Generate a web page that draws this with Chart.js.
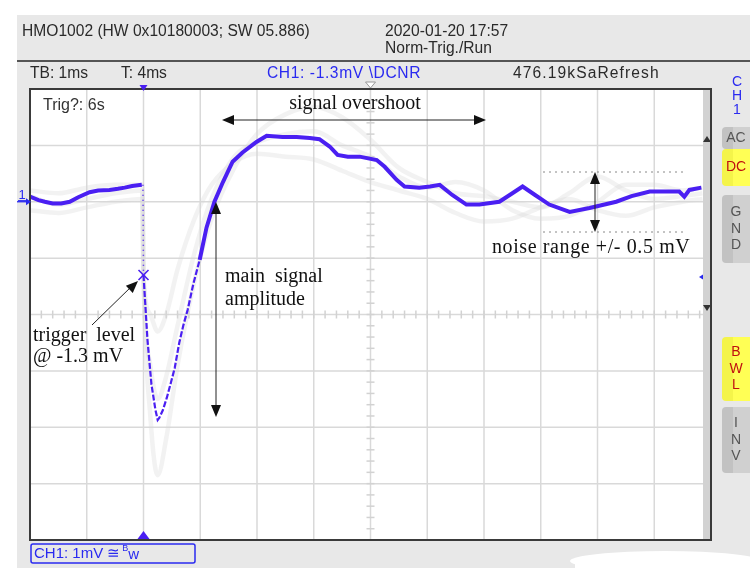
<!DOCTYPE html>
<html><head><meta charset="utf-8">
<script src="https://cdn.jsdelivr.net/npm/chart.js@4/dist/chart.umd.min.js"></script>
<style>html,body{margin:0;padding:0;background:#fff;overflow:hidden}#wrap{width:750px;height:568px}</style>
</head><body><div id="wrap"><canvas id="c" width="750" height="568"></canvas></div>
<script>
// ---- grid (divisions) ----
const timeGrid = [-2,-1,0,1,2,3,4,5,6,7,8,9,10];   // ms, 1 ms / div
const voltGrid = [-6,-5,-4,-3,-2,-1,0,1,2];         // mV, 1 mV / div
const centerTime = 4, centerVolt = -2, triggerLevel = -1.3;

// ---- header texts ----
const headerLeft = 'HMO1002 (HW 0x10180003; SW 05.886)';
const headerDate = '2020-01-20 17:57';
const headerMode = 'Norm-Trig./Run';
const infoTB = 'TB: 1ms', infoT = 'T: 4ms', infoCH = 'CH1: -1.3mV \\DCNR', infoRate = '476.19kSaRefresh';

// ---- live trace (blue) ----
const preTime  = [-2.0,-1.85,-1.74,-1.6,-1.45,-1.3,-1.15,-0.95,-0.8,-0.6,-0.45,-0.33,-0.2,-0.03];
const preVolts = [0.09,0.03,0.0,-0.03,-0.03,0.0,0.08,0.17,0.2,0.21,0.23,0.25,0.28,0.3];
const edgeTime  = [-0.01,0.0];
const edgeVolts = [0.3,-1.3];
const pulseTime  = [0.0,0.07,0.14,0.21,0.25,0.28,0.34,0.41,0.48,0.55,0.63,0.7,0.78,0.88,0.99];
const pulseVolts = [-1.3,-2.45,-3.24,-3.69,-3.87,-3.83,-3.7,-3.48,-3.22,-2.95,-2.5,-2.2,-1.91,-1.45,-1.03];
const tailTime  = [0.99,1.11,1.25,1.4,1.57,1.74,1.99,2.17,2.45,2.7,2.93,3.1,3.28,3.42,3.6,3.81,4.11,4.25,4.46,4.6,4.86,5.05,5.22,5.44,5.69,5.92,6.27,6.5,6.68,6.9,7.15,7.51,7.86,8.33,8.6,8.92,9.2,9.44,9.53,9.62,9.83];
const tailVolts = [-1.03,-0.46,0.0,0.35,0.71,0.87,1.06,1.17,1.15,1.15,1.13,1.11,0.98,0.83,0.8,0.8,0.74,0.62,0.39,0.27,0.25,0.27,0.3,0.12,-0.05,-0.05,0.0,0.15,0.27,0.12,-0.05,-0.18,-0.11,0.0,0.1,0.18,0.18,0.18,0.09,0.21,0.25];

// ---- persistence (grey) traces ----
const ghostTime    = [-2,-1.5,-1,-0.5,-0.02,0,0.12,0.25,0.4,0.6,0.9,1.2,1.6,2.0,2.5,3.0,3.5,4.0,4.5,5.0,5.5,6.0,6.5,7.0,7.5,8.0,8.5,9.0,9.5,9.85];
const ghostDeep    = [0.1,-0.05,0.05,0.15,0.2,-1.3,-3.8,-4.85,-4.2,-2.9,-1.4,-0.3,0.6,1.2,1.55,1.68,1.5,1.1,0.6,0.35,0.15,0.1,0.0,-0.1,0.15,0.45,0.2,0.05,0.1,0.15];
const ghostShallow = [-0.15,-0.2,-0.1,0.0,0.05,-1.3,-2.0,-2.3,-2.0,-1.2,-0.3,0.3,0.7,0.85,0.8,0.75,0.55,0.35,0.2,0.05,-0.2,-0.35,-0.3,-0.1,0.05,-0.15,-0.25,-0.1,0.0,0.05];
const ghostMid     = [0.2,0.15,0.25,0.3,0.3,-1.3,-2.9,-3.5,-3.1,-2.2,-0.9,0.05,0.8,1.05,1.2,1.25,1.0,0.8,0.45,0.25,0.35,0.2,-0.15,-0.3,-0.25,0.0,0.3,0.3,0.2,0.25];

const BLUE = '#4a1ff2';
const pts = (xs, ys) => xs.map((x, i) => ({x, y: ys[i]}));
const ghostStyle = {borderColor:'rgba(215,215,215,0.33)', borderWidth:4.5, pointRadius:0, showLine:true, cubicInterpolationMode:'monotone', order:10};

function arrowHead(c, x, y, ang, len = 12, half = 5) {
  c.beginPath();
  c.moveTo(x, y);
  c.lineTo(x - len*Math.cos(ang) + half*Math.sin(ang), y - len*Math.sin(ang) - half*Math.cos(ang));
  c.lineTo(x - len*Math.cos(ang) - half*Math.sin(ang), y - len*Math.sin(ang) + half*Math.cos(ang));
  c.closePath(); c.fill();
}
function line(c, x1, y1, x2, y2) { c.beginPath(); c.moveTo(x1, y1); c.lineTo(x2, y2); c.stroke(); }
function button(c, y1, y2, color, dark, letters, textColor) {
  c.fillStyle = dark; c.beginPath(); c.roundRect(722, y1, 40, y2 - y1, 4); c.fill();
  c.fillStyle = color; c.fillRect(733, y1, 17, y2 - y1);
  c.fillStyle = textColor; c.font = '14px "Liberation Sans"'; c.textAlign = 'center'; c.textBaseline = 'middle';
  const n = letters.length;
  letters.forEach((s, i) => c.fillText(s, 736, (y1 + y2)/2 + (i - (n-1)/2) * 16.5));
}

const scope = {
  id: 'scope',
  beforeDatasetsDraw(chart) {
    const c = chart.ctx, xs = chart.scales.x, ys = chart.scales.y;
    const L = xs.getPixelForValue(timeGrid[0]), R = xs.getPixelForValue(timeGrid[timeGrid.length-1]);
    const T = ys.getPixelForValue(voltGrid[voltGrid.length-1]), B = ys.getPixelForValue(voltGrid[0]);
    c.save();
    c.fillStyle = '#fff'; c.fillRect(0, 0, 750, 568);
    c.fillStyle = '#e8e8e8'; c.fillRect(17, 15, 733, 553);
    // header
    c.fillStyle = '#2a2a2a'; c.font = '15.6px "Liberation Sans"'; c.textBaseline = 'middle'; c.textAlign = 'left';
    c.fillText(headerLeft, 22, 32);
    c.fillText(headerDate, 385, 32);
    c.fillText(headerMode, 385, 49);
    c.strokeStyle = '#555'; c.lineWidth = 2; line(c, 17, 61, 750, 61);
    c.fillText(infoTB, 30, 74); c.fillText(infoT, 121, 74);
    c.letterSpacing = '1.1px'; c.fillText(infoRate, 513, 74);
    c.letterSpacing = '0.6px';
    c.fillStyle = '#2a2af0'; c.fillText(infoCH, 267, 74);
    c.letterSpacing = '0px';
    // plot area
    c.fillStyle = '#fff'; c.fillRect(L, T, R - L, B - T);
    c.strokeStyle = '#d9d9d9'; c.lineWidth = 1.5;
    timeGrid.forEach(v => { const x = xs.getPixelForValue(v); line(c, x, T, x, B); });
    voltGrid.forEach(v => { const y = ys.getPixelForValue(v); line(c, L, y, R, y); });
    // center ticks
    const cx = xs.getPixelForValue(centerTime), cy = ys.getPixelForValue(centerVolt);
    c.strokeStyle = '#d2d2d2'; c.lineWidth = 1.5;
    for (let v = voltGrid[0]; v <= voltGrid[voltGrid.length-1] + 1e-6; v += 0.2) { const y = ys.getPixelForValue(v); line(c, cx - 4, y, cx + 4, y); }
    for (let t = timeGrid[0]; t <= timeGrid[timeGrid.length-1] + 1e-6; t += 0.2) { const x = xs.getPixelForValue(t); line(c, x, cy - 4, x, cy + 4); }
    c.restore();
  },
  afterDatasetsDraw(chart) {
    const c = chart.ctx, xs = chart.scales.x, ys = chart.scales.y;
    const L = xs.getPixelForValue(timeGrid[0]), R = xs.getPixelForValue(timeGrid[timeGrid.length-1]);
    const T = ys.getPixelForValue(voltGrid[voltGrid.length-1]), B = ys.getPixelForValue(voltGrid[0]);
    const px = t => xs.getPixelForValue(t), py = v => ys.getPixelForValue(v);
    c.save();
    // scrollbar
    c.fillStyle = '#d2d2d2'; c.fillRect(R - 8, T, 8, B - T);
    c.fillStyle = '#333';
    arrowHead(c, R - 4, 136, -Math.PI/2, 6, 4);
    arrowHead(c, R - 4, 311, Math.PI/2, 6, 4);
    // frame
    c.strokeStyle = '#3a3a3a'; c.lineWidth = 2; c.strokeRect(L, T, R - L, B - T);
    // trigger markers
    c.fillStyle = BLUE;
    arrowHead(c, px(0), T + 2, Math.PI/2, 6, 4);
    arrowHead(c, px(0), B - 9, -Math.PI/2, 8, 6);
    c.strokeStyle = '#999'; c.lineWidth = 1; c.fillStyle = '#fff';
    c.beginPath(); c.moveTo(px(centerTime) - 5, T - 7); c.lineTo(px(centerTime) + 5, T - 7); c.lineTo(px(centerTime), T - 1); c.closePath(); c.fill(); c.stroke();
    // channel marker
    c.fillStyle = '#2a2af0'; c.font = '13px "Liberation Sans"'; c.textAlign = 'center'; c.textBaseline = 'middle';
    c.fillText('1', 22, py(0) - 6);
    c.strokeStyle = '#2a2af0'; c.lineWidth = 1.3; line(c, 17, py(0), 28, py(0)); line(c, 18, py(0) - 1, 27, py(0) - 1);
    arrowHead(c, 31, py(0), 0, 5, 3.5);
    // right trigger level marker
    arrowHead(c, R - 12, py(triggerLevel) + 2, Math.PI, 4, 2.5);
    // trigger cross
    c.strokeStyle = BLUE; c.lineWidth = 1.6;
    const tx = px(0), ty = py(triggerLevel);
    line(c, tx - 5, ty - 5, tx + 5, ty + 5); line(c, tx - 5, ty + 5, tx + 5, ty - 5);
    // Trig text
    c.fillStyle = '#333'; c.font = '16px "Liberation Sans"'; c.textAlign = 'left';
    c.fillText('Trig?: 6s', 43, 106);
    // annotations
    c.fillStyle = '#111'; c.strokeStyle = '#222'; c.lineWidth = 1;
    c.font = '20px "Liberation Serif"'; c.textBaseline = 'middle';
    c.textAlign = 'center'; c.fillText('signal overshoot', 355, 104);
    line(c, 226, 120, 482, 120); arrowHead(c, 222, 120, Math.PI); arrowHead(c, 486, 120, 0);
    line(c, 216, 208, 216, 411); arrowHead(c, 216, 202, -Math.PI/2); arrowHead(c, 216, 417, Math.PI/2);
    c.textAlign = 'left';
    c.fillText('main  signal', 225, 277); c.fillText('amplitude', 225, 300);
    c.fillText('trigger  level', 33, 336); c.fillText('@ -1.3 mV', 33, 357);
    const ang = Math.atan2(281 - 325, 138 - 92);
    line(c, 92, 325, 133, 285); arrowHead(c, 138, 281, ang);
    c.letterSpacing = '0.6px';
    c.fillText('noise range +/- 0.5 mV', 492, 248);
    c.letterSpacing = '0px';
    line(c, 595, 178, 595, 226); arrowHead(c, 595, 172, -Math.PI/2); arrowHead(c, 595, 232, Math.PI/2);
    c.strokeStyle = '#888'; c.setLineDash([2, 4]);
    line(c, 543, 172, 686, 172); line(c, 543, 232, 686, 232);
    c.setLineDash([]);
    // right panel
    c.fillStyle = '#2a2af0'; c.font = '14px "Liberation Sans"'; c.textAlign = 'center';
    c.fillText('C', 737, 82); c.fillText('H', 737, 96); c.fillText('1', 737, 110);
    button(c, 127, 149, '#d0d0d0', '#c2c2c2', ['AC'], '#555');
    button(c, 149, 186, '#ffff55', '#f4f44a', ['DC'], '#c01010');
    button(c, 195, 263, '#d0d0d0', '#c2c2c2', ['G','N','D'], '#555');
    button(c, 337, 401, '#ffff55', '#f4f44a', ['B','W','L'], '#c01010');
    button(c, 407, 473, '#d0d0d0', '#c2c2c2', ['I','N','V'], '#555');
    // bottom channel box
    c.strokeStyle = '#2a2af0'; c.lineWidth = 1.5; c.fillStyle = '#e8e8e8';
    c.beginPath(); c.roundRect(31, 544, 164, 19, 2); c.fill(); c.stroke();
    c.fillStyle = '#2a2af0'; c.font = '15px "Liberation Sans"'; c.textAlign = 'left';
    c.fillText('CH1: 1mV \u2245', 34, 554);
    const w = c.measureText('CH1: 1mV \u2245').width;
    c.font = '9px "Liberation Sans"'; c.fillText('B', 36 + w, 549);
    c.font = '15px "Liberation Sans"'; c.fillText('w', 42 + w, 555);
    // erased watermark blob
    c.fillStyle = '#fff';
    c.beginPath(); c.ellipse(665, 561, 95, 10, 0, 0, Math.PI*2); c.fill();
    c.beginPath(); c.ellipse(715, 566, 40, 8, 0, 0, Math.PI*2); c.fill();
    c.fillRect(575, 558, 175, 10);
    c.restore();
  }
};

new Chart(document.getElementById('c'), {
  type: 'scatter',
  data: { datasets: [
    {data: pts(preTime, preVolts), borderColor: BLUE, borderWidth: 4, pointRadius: 0, showLine: true, order: 1},
    {data: pts(edgeTime, edgeVolts), borderColor: BLUE, borderWidth: 1.5, borderDash: [1, 4], pointRadius: 0, showLine: true, order: 1},
    {data: pts(pulseTime, pulseVolts), borderColor: BLUE, borderWidth: 2.2, borderDash: [6, 2], pointRadius: 0, showLine: true, order: 1},
    {data: pts(tailTime, tailVolts), borderColor: BLUE, borderWidth: 4, pointRadius: 0, showLine: true, order: 1},
    {data: pts(ghostTime, ghostDeep), ...ghostStyle},
    {data: pts(ghostTime, ghostShallow), ...ghostStyle},
    {data: pts(ghostTime, ghostMid), ...ghostStyle}
  ]},
  options: {
    responsive: false, animation: false, devicePixelRatio: 1,
    layout: {padding: {left: 30, top: 89, right: 39, bottom: 28}},
    scales: {
      x: {type: 'linear', min: timeGrid[0], max: timeGrid[timeGrid.length-1], display: false},
      y: {type: 'linear', min: voltGrid[0], max: voltGrid[voltGrid.length-1], display: false}
    },
    plugins: {legend: {display: false}, tooltip: {enabled: false}}
  },
  plugins: [scope]
});
</script>
</body></html>
